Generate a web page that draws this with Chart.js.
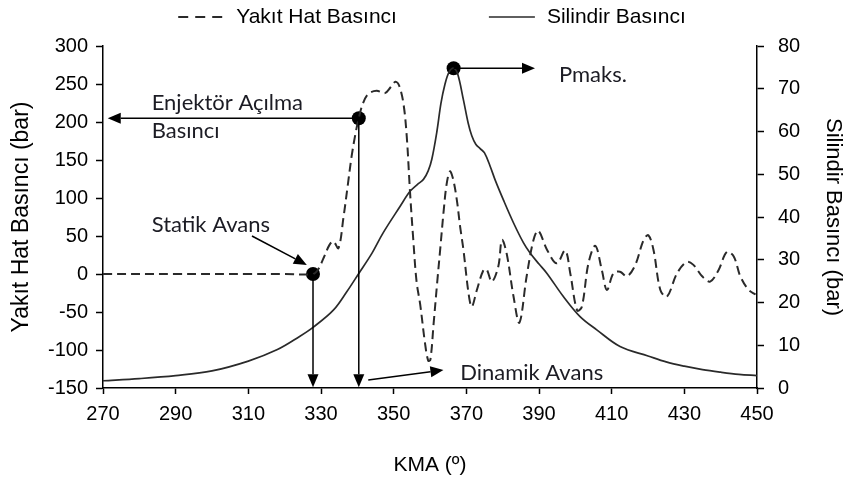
<!DOCTYPE html>
<html>
<head>
<meta charset="utf-8">
<script src="https://cdn.jsdelivr.net/npm/chart.js@4.4.1/dist/chart.umd.min.js"></script>
<style>
  html, body { margin: 0; padding: 0; background: #fff; }
  canvas { display: block; }
</style>
</head>
<body>
<canvas id="chart" width="848" height="480"></canvas>
<script>
// Fuel line pressure (bar) against crank angle (KMA, degrees)
const fuelAngle = [
  270, 290, 310, 320, 327.8, 329.2, 330.8, 332.3, 333.4, 334.8,
  336.2, 337.4, 338.4, 339.5, 340.4, 341.5, 343, 345.3, 347.6, 349.2,
  350.5, 351.5, 352.7, 353.6, 354.5, 355.4, 356.3, 357.3, 358.6, 359.5,
  360.1, 361, 362, 362.8, 363.8, 364.6, 365.5, 366.4, 367.4, 368.3,
  369.2, 370.6, 371.5, 372.9, 374.7, 375.6, 377, 378.8, 379.8, 381.1,
  383, 384.6, 386.6, 388.5, 389.8, 392.2, 394.9, 397.2, 398.6, 400.5,
  401.8, 403.6, 405.5, 407.3, 408.7, 410.5, 412.3, 414.2, 416.5, 418.8,
  420.1, 421.5, 423.4, 425.2, 428, 430.7, 432.5, 434.9, 437.1, 439.4,
  441.7, 443.6, 445.4, 447.7, 449.6
];
const fuelPressure = [
  0, 0, 0, 0, 0, 6, 22, 38, 43, 34,
  75, 118, 154, 185, 205, 224, 237, 241, 238, 246,
  253, 248, 224, 181, 108, 45, -10, -40, -90, -114,
  -113, -65, -10, 32, 85, 119, 135, 124, 97, 62,
  32, -25, -43, -21, 5, 6, -10, 10, 45, 27,
  -30, -64, -3, 45, 57, 32, 14, 31, 1, -48,
  -43, 14, 37, 5, -21, 1, 3, -3, 12, 45,
  51, 32, -21, -30, 1, 16, 12, -3, -10, 5,
  29, 23, -3, -21, -27
];

// Cylinder pressure (bar) against crank angle
const cylAngle = [
  270, 280, 290, 300, 310, 318, 324, 328, 333.4, 337,
  340.4, 344, 347.1, 351.7, 354.5, 356.5, 358.2, 359.5, 360.5, 361.9,
  363, 364.1, 365.3, 366.5, 367.6, 369.2, 370.5, 371.5, 372.6, 373.8,
  375, 376.5, 378, 380.2, 383, 385.7, 387.6, 390, 392.2, 396.7,
  401.3, 405.9, 412.3, 420, 425, 430, 435, 440, 445, 450
];
const cylPressure = [
  1.7, 2.2, 2.9, 4, 6.3, 9, 12, 14.3, 18.2, 22.4,
  26.8, 31.5, 36.3, 42.4, 46, 47.6, 48.8, 50.8, 53.5, 60,
  66.5, 71, 74, 74.8, 73.5, 67.4, 62, 59, 57, 56,
  55, 52, 48.5, 44, 38.6, 34, 31.5, 29, 26.8, 21.4,
  16.7, 13.6, 9.7, 7.5, 6.1, 5.1, 4.3, 3.7, 3.2, 2.9
];

const seriesNames = ['Yakıt Hat Basıncı', 'Silindir Basıncı'];
const axisTitles = { x: 'KMA (º)', y: 'Yakıt Hat Basıncı (bar)', y2: 'Silindir Basıncı (bar)' };

// Marked events (crank angle, pressure)
const staticAdvance = { x: 327.8, y: 0 };
const injectorOpening = { x: 340.4, y: 205 };
const peakPressure = { x: 366.5, y: 74.8 };

// Annotation arrows and labels, placed in axis units
const arrows = [
  { axis: 'y',  from: [injectorOpening.x, injectorOpening.y], to: [271.3, injectorOpening.y] },
  { axis: 'y',  from: [injectorOpening.x, injectorOpening.y], to: [injectorOpening.x, -149] },
  { axis: 'y',  from: [staticAdvance.x, staticAdvance.y], to: [staticAdvance.x, -149] },
  { axis: 'y',  from: [311, 50], to: [326.1, 12] },
  { axis: 'y',  from: [343, -139.5], to: [363.7, -126.3] },
  { axis: 'y2', from: [peakPressure.x, peakPressure.y], to: [388.9, peakPressure.y] }
];
const notes = [
  { axis: 'y',  text: 'Enjektör Açılma', at: [283.4, 215.8] },
  { axis: 'y',  text: 'Basıncı',         at: [283.4, 179] },
  { axis: 'y',  text: 'Statik Avans',    at: [283.4, 55] },
  { axis: 'y2', text: 'Pmaks.',          at: [395.5, 71.6] },
  { axis: 'y',  text: 'Dinamik Avans',   at: [368.3, -139.5] }
];

const tickFont = { family: '"Liberation Sans", Arial, sans-serif', size: 20 };
const ink = '#000000';
const lineInk = '#2a2a2a';

function drawArrow(ctx, x1, y1, x2, y2) {
  const ang = Math.atan2(y2 - y1, x2 - x1);
  const L = 13, W = 5.5;
  const bx = x2 - L * Math.cos(ang), by = y2 - L * Math.sin(ang);
  ctx.beginPath();
  ctx.moveTo(x1, y1);
  ctx.lineTo(bx, by);
  ctx.stroke();
  ctx.beginPath();
  ctx.moveTo(x2, y2);
  ctx.lineTo(bx + W * Math.sin(ang), by - W * Math.cos(ang));
  ctx.lineTo(bx - W * Math.sin(ang), by + W * Math.cos(ang));
  ctx.closePath();
  ctx.fill();
}

// Arrows, callout texts and the top legend
const calloutPlugin = {
  id: 'callouts',
  afterDatasetsDraw(chart) {
    const { ctx, scales } = chart;
    ctx.save();
    ctx.strokeStyle = ink;
    ctx.fillStyle = ink;
    ctx.lineWidth = 1.5;
    arrows.forEach(a => {
      const ys = scales[a.axis];
      drawArrow(ctx,
        scales.x.getPixelForValue(a.from[0]), ys.getPixelForValue(a.from[1]),
        scales.x.getPixelForValue(a.to[0]), ys.getPixelForValue(a.to[1]));
    });
    ctx.font = '22px Lato, "Open Sans", sans-serif';
    ctx.fillStyle = '#1c1c24';
    ctx.textAlign = 'left';
    ctx.textBaseline = 'alphabetic';
    notes.forEach(n => {
      ctx.fillText(n.text, scales.x.getPixelForValue(n.at[0]), scales[n.axis].getPixelForValue(n.at[1]));
    });
    ctx.restore();
  },
  afterDraw(chart) {
    const { ctx } = chart;
    const ds = chart.data.datasets;
    ctx.save();
    ctx.font = '21px "Liberation Sans", Arial, sans-serif';
    ctx.textBaseline = 'middle';
    ctx.textAlign = 'left';
    const sample = 46, inner = 12, gap = 92, y = 17;
    const w = [ctx.measureText(ds[0].label).width, ctx.measureText(ds[1].label).width];
    const total = 2 * (sample + inner) + w[0] + w[1] + gap;
    let x = chart.width / 2 + 8 - total / 2;
    [0, 1].forEach(i => {
      ctx.strokeStyle = ds[i].borderColor;
      ctx.lineWidth = ds[i].borderWidth;
      ctx.setLineDash(ds[i].borderDash ? [10, 7] : []);
      ctx.beginPath();
      ctx.moveTo(x, y);
      ctx.lineTo(x + sample, y);
      ctx.stroke();
      ctx.setLineDash([]);
      ctx.fillStyle = ink;
      ctx.fillText(ds[i].label, x + sample + inner, y);
      x += sample + inner + w[i] + gap;
    });
    ctx.restore();
  }
};

const toPoints = (xs, ys) => xs.map((v, i) => ({ x: v, y: ys[i] }));

new Chart(document.getElementById('chart'), {
  type: 'line',
  data: {
    datasets: [
      {
        label: seriesNames[0],
        data: toPoints(fuelAngle, fuelPressure),
        yAxisID: 'y',
        borderColor: lineInk,
        borderWidth: 2,
        borderDash: [9, 5],
        pointRadius: 0,
        tension: 0.35,
        fill: false
      },
      {
        label: seriesNames[1],
        data: toPoints(cylAngle, cylPressure),
        yAxisID: 'y2',
        borderColor: lineInk,
        borderWidth: 1.7,
        pointRadius: 0,
        tension: 0.35,
        fill: false
      },
      {
        label: 'events',
        type: 'scatter',
        data: [staticAdvance, injectorOpening],
        yAxisID: 'y',
        pointRadius: 7,
        pointBackgroundColor: ink,
        pointBorderWidth: 0,
        showLine: false
      },
      {
        label: 'peak',
        type: 'scatter',
        data: [peakPressure],
        yAxisID: 'y2',
        pointRadius: 7,
        pointBackgroundColor: ink,
        pointBorderWidth: 0,
        showLine: false
      }
    ]
  },
  options: {
    responsive: false,
    animation: false,
    devicePixelRatio: 1,
    layout: { padding: { top: 46, left: 0, right: 0, bottom: 0 } },
    plugins: { legend: { display: false }, tooltip: { enabled: false } },
    scales: {
      x: {
        type: 'linear',
        min: 270, max: 450,
        afterFit: s => { s.height = 92; },
        ticks: { stepSize: 20, font: tickFont, color: ink, padding: 8, maxRotation: 0 },
        grid: { drawOnChartArea: false, drawTicks: true, tickLength: 6, color: ink, tickColor: ink, tickWidth: 1.5 },
        border: { display: true, color: ink, width: 1.5 },
        title: { display: true, text: axisTitles.x, color: ink,
                 font: { family: '"Liberation Sans", Arial, sans-serif', size: 21 },
                 padding: { top: 0, bottom: 2 } }
      },
      y: {
        position: 'left',
        min: -150, max: 300,
        afterFit: s => { s.width = 103; },
        ticks: { stepSize: 50, font: tickFont, color: ink, padding: 8 },
        grid: { drawOnChartArea: false, drawTicks: true, tickLength: 7, color: ink, tickColor: ink, tickWidth: 1.5 },
        border: { display: true, color: ink, width: 1.5 },
        title: { display: true, text: axisTitles.y, color: ink,
                 font: { family: '"Liberation Sans", Arial, sans-serif', size: 23 },
                 padding: { top: 8, bottom: 0 } }
      },
      y2: {
        position: 'right',
        min: 0, max: 80,
        afterFit: s => { s.width = 91; },
        ticks: { stepSize: 10, font: tickFont, color: ink, padding: 14 },
        grid: { drawOnChartArea: false, drawTicks: true, tickLength: 7, color: ink, tickColor: ink, tickWidth: 1.5 },
        border: { display: true, color: ink, width: 1.5 },
        title: { display: true, text: axisTitles.y2, color: ink,
                 font: { family: '"Liberation Sans", Arial, sans-serif', size: 22 },
                 padding: { top: 2, bottom: 0 } }
      }
    }
  },
  plugins: [calloutPlugin]
});
</script>
</body>
</html>
